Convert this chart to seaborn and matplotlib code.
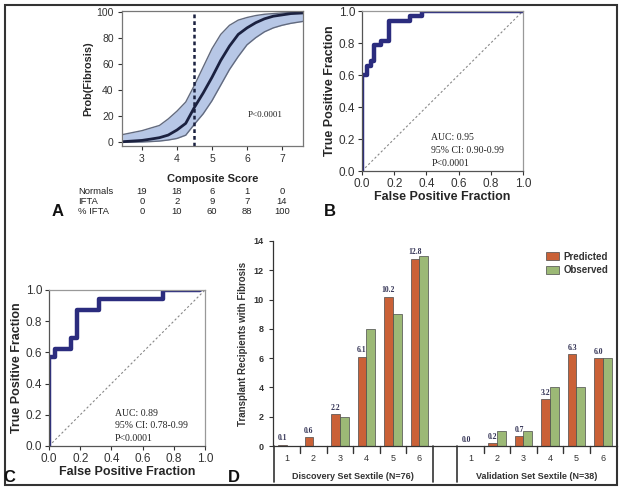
import numpy as np
import pandas as pd
import matplotlib
matplotlib.use("Agg")
import matplotlib.pyplot as plt
import matplotlib.transforms as mtrans
from matplotlib.patches import Rectangle
import seaborn as sns

# ---------------- data ----------------
# Panel A: logistic fit with 95% band
score = [2.45, 3.0, 3.25, 3.5, 3.75, 4.0, 4.25, 4.5, 4.75, 5.0, 5.25, 5.5, 5.75, 6.0, 6.25, 6.5, 6.75, 7.0, 7.25, 7.6]
prob_mid = [0.5, 1.5, 2.5, 3.6, 5.6, 9.5, 14.6, 27, 38, 50, 63, 74, 83, 88, 92, 95, 97, 98, 99, 99.5]
prob_hi = [6, 9, 11, 13, 18, 24, 31, 44, 58, 72, 83, 90, 94, 96, 97.5, 98.5, 99, 99.5, 99.8, 100]
prob_lo = [0, 0.3, 0.6, 1, 1.8, 3, 5.5, 14, 22, 32, 44, 56, 66, 75, 80.5, 85, 88, 90, 91.5, 93]
cutoff = 4.5
table_cols = [3, 4, 5, 6, 7]
normals = [19, 18, 6, 1, 0]
ifta = [0, 2, 9, 7, 14]
pct_ifta = [0, 10, 60, 88, 100]

# Panel B: ROC (discovery)
fpr_b = [0, 0, 0.03, 0.055, 0.075, 0.12, 0.165, 0.30, 0.37, 1.0]
tpr_b = [0, 0.60, 0.655, 0.69, 0.785, 0.815, 0.94, 0.97, 1.0, 1.0]
# Panel C: ROC (validation)
fpr_c = [0, 0, 0.04, 0.14, 0.18, 0.32, 0.73, 0.97]
tpr_c = [0, 0.57, 0.625, 0.69, 0.875, 0.94, 1.0, 1.0]

# Panel D: predicted vs observed per sextile
sextiles = [1, 2, 3, 4, 5, 6]
disc_pred = [0.1, 0.6, 2.2, 6.1, 10.2, 12.8]
disc_obs = [0, 0, 2, 8, 9, 13]
val_pred = [0.0, 0.2, 0.7, 3.2, 6.3, 6.0]
val_obs = [0, 1, 1, 4, 4, 6]
group_labels = ["Discovery Set Sextile (N=76)", "Validation Set Sextile (N=38)"]

# ---------------- style ----------------
sns.set_style("ticks")
plt.rcParams["font.family"] = ["Liberation Sans", "DejaVu Sans"]
SERIF = ["Liberation Serif", "DejaVu Serif"]
NAVY = "#2B2C7E"
ORANGE = "#E2561F"
GREEN = "#9DC46B"

W, H = 624, 491
fig = plt.figure(figsize=(W / 100, H / 100), dpi=100)


def axes_px(l, t, r, b):
    return fig.add_axes([l / W, 1 - b / H, (r - l) / W, (b - t) / H])


# ---------------- Panel A ----------------
axA = axes_px(122, 11, 303, 146)
dfA = pd.DataFrame({"score": score, "mid": prob_mid, "hi": prob_hi, "lo": prob_lo})
axA.fill_between(dfA["score"], dfA["lo"], dfA["hi"], color="#B7C7E6", lw=0)
sns.lineplot(data=dfA, x="score", y="hi", ax=axA, color="#626A7E", lw=1.0)
sns.lineplot(data=dfA, x="score", y="lo", ax=axA, color="#626A7E", lw=1.0)
sns.lineplot(data=dfA, x="score", y="mid", ax=axA, color="#1B2140", lw=2.0)
axA.axvline(cutoff, color="#1B2140", lw=1.8, ls=(0, (1.5, 1.2)))
axA.set_xlim(2.43, 7.6)
axA.set_ylim(-2.8, 101)
axA.set_xticks([3, 4, 5, 6, 7])
axA.set_yticks([0, 20, 40, 60, 80, 100])
axA.tick_params(labelsize=7.5, colors="#333333", length=3, width=0.8, pad=3)
for s in axA.spines.values():
    s.set_color("#777777")
    s.set_linewidth(0.9)
axA.set_xlabel("Composite Score", fontsize=8, fontweight="bold", labelpad=7)
axA.set_ylabel("Prob(Fibrosis)", fontsize=7.8, fontweight="bold", labelpad=2)
axA.text(6.03, 21, "P<0.0001", family=SERIF, fontsize=6.5, color="#222222", va="center")

blend = mtrans.blended_transform_factory(axA.transData, fig.transFigure)
rows = [("Normals", normals), ("IFTA", ifta), ("% IFTA", pct_ifta)]
for i, (lab, vals) in enumerate(rows):
    yy = 1 - (192 + 10 * i) / H
    fig.text(78 / W, yy, lab, fontsize=6.8, va="center", ha="left", color="#222222")
    for c, v in zip(table_cols, vals):
        axA.text(c, yy, str(v), transform=blend, fontsize=6.8, va="center", ha="center",
                 color="#222222", clip_on=False)


# ---------------- ROC helper ----------------
def roc_panel(ax, fpr, tpr, texts, tx):
    df = pd.DataFrame({"fpr": fpr, "tpr": tpr})
    ax.plot([0, 1], [0, 1], color="#888888", lw=0.8, ls=(0, (2, 2)))
    sns.lineplot(data=df, x="fpr", y="tpr", ax=ax, sort=False, estimator=None,
                 color=NAVY, lw=3.2, drawstyle="steps-post")
    ax.set_xlim(0, 1)
    ax.set_ylim(0, 1)
    ticks = np.arange(0, 1.01, 0.2)
    ax.set_xticks(ticks)
    ax.set_yticks(ticks)
    ax.set_xticklabels([f"{v:.1f}" for v in ticks])
    ax.set_yticklabels([f"{v:.1f}" for v in ticks])
    ax.tick_params(labelsize=8.5, colors="#333333", length=3, width=0.8, pad=2)
    for k in ["left", "bottom"]:
        ax.spines[k].set_color("#555555")
    for k in ["top", "right"]:
        ax.spines[k].set_color("#999999")
    for s in ax.spines.values():
        s.set_linewidth(0.9)
    ax.set_xlabel("False Positive Fraction", fontsize=9, fontweight="bold", labelpad=1)
    ax.set_ylabel("True Positive Fraction", fontsize=9, fontweight="bold", labelpad=2)
    for t, y in zip(texts, [0.21, 0.13, 0.045]):
        ax.text(tx, y, t, family=SERIF, fontsize=7, va="center", color="#222222")


axB = axes_px(362, 11, 523, 171)
roc_panel(axB, fpr_b, tpr_b, ["AUC: 0.95", "95% CI: 0.90-0.99", "P<0.0001"], 0.43)

axC = axes_px(49, 290, 205, 446)
roc_panel(axC, fpr_c, tpr_c, ["AUC: 0.89", "95% CI: 0.78-0.99", "P<0.0001"], 0.42)

# ---------------- Panel D ----------------
axD = axes_px(273, 241, 617, 446)
val_offset = 6.93
pos_disc = [i for i in range(len(sextiles))]
pos_val = [val_offset + i for i in range(len(sextiles))]
positions = pos_disc + pos_val
pred = disc_pred + val_pred
obs = disc_obs + val_obs
dfD = pd.DataFrame({
    "pos": positions * 2,
    "value": pred + obs,
    "series": ["Predicted"] * len(pred) + ["Observed"] * len(obs),
})
sns.barplot(data=dfD, x="pos", y="value", hue="series", native_scale=True, dodge=True,
            width=0.66, palette={"Predicted": ORANGE, "Observed": GREEN},
            hue_order=["Predicted", "Observed"], errorbar=None, ax=axD,
            edgecolor="#4a4a4a", linewidth=0.5)
for p, v in zip(positions, pred):
    axD.text(p - 0.165, v + 0.15, f"{v:.1f}", family=SERIF, fontweight="bold",
             fontsize=5.5, ha="center", va="bottom", color="#333355")
axD.set_xlim(-0.52, 12.46)
axD.set_ylim(0, 14)
axD.set_yticks(range(0, 15, 2))
axD.set_xticks([])
axD.set_xlabel("")
axD.set_ylabel("Transplant Recipients with Fibrosis", fontsize=7, fontweight="bold",
               color="#333333", labelpad=4)
axD.tick_params(axis="y", labelsize=6.5, length=3, width=0.8, colors="#333333")
for lab in axD.get_yticklabels():
    lab.set_fontweight("bold")
axD.spines["top"].set_visible(False)
axD.spines["right"].set_visible(False)
for k in ["left", "bottom"]:
    axD.spines[k].set_color("#333333")
    axD.spines[k].set_linewidth(0.9)

tD = mtrans.blended_transform_factory(axD.transData, axD.transAxes)
for grp, gl in zip([pos_disc, pos_val], group_labels):
    left, right = grp[0] - 0.5, grp[-1] + 0.53
    for x in (left, right):
        axD.plot([x, x], [0, -0.176], transform=tD, color="#333333", lw=1.2, clip_on=False)
    for a, b in zip(grp[:-1], grp[1:]):
        xm = (a + b) / 2
        axD.plot([xm, xm], [0, -0.034], transform=tD, color="#333333", lw=1.0, clip_on=False)
    for p, s in zip(grp, sextiles):
        axD.text(p, -0.06, str(s), transform=tD, fontsize=6.5, ha="center", va="center",
                 color="#333333", clip_on=False)
    axD.text((grp[0] + grp[-1]) / 2, -0.151, gl, transform=tD, fontsize=6.5, ha="center",
             va="center", fontweight="bold", color="#333333", clip_on=False)

leg = axD.legend(loc="upper right", bbox_to_anchor=(1.0, 0.99), frameon=False,
                 fontsize=7, handlelength=1.3, handleheight=0.9, handletextpad=0.5,
                 labelspacing=0.35, title=None)
for t in leg.get_texts():
    t.set_fontweight("bold")
    t.set_color("#333333")

# ---------------- panel letters & border ----------------
for letter, x, y in [("A", 58, 212), ("B", 330, 212), ("C", 9, 478), ("D", 234, 478)]:
    fig.text(x / W, 1 - y / H, letter, fontsize=12, fontweight="bold", ha="center",
             va="center", color="#111111")
fig.add_artist(Rectangle((5 / W, 1 - 485 / H), 612 / W, 480 / H, transform=fig.transFigure,
                         fill=False, ec="#333333", lw=1.5))

fig.savefig("out.png", dpi=100)
